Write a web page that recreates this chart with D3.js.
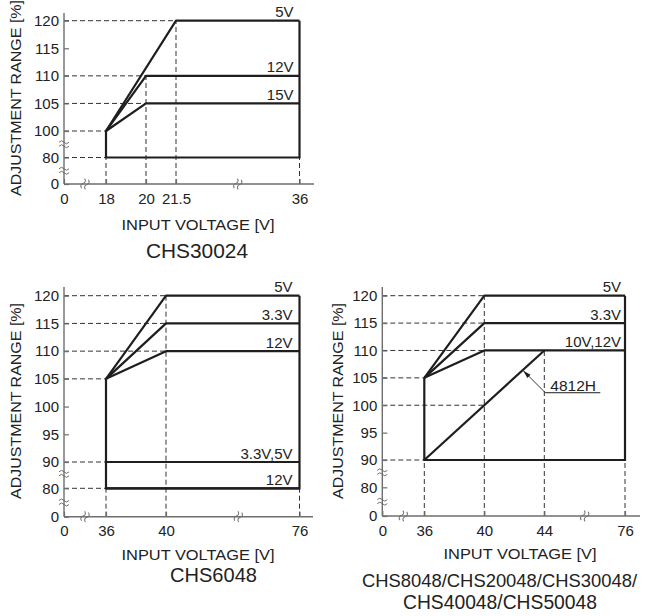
<!DOCTYPE html>
<html>
<head>
<meta charset="utf-8">
<script src="https://cdn.jsdelivr.net/npm/d3@7"></script>
<style>
  body { margin: 0; background: #fff; }
  text { font-family: "Liberation Sans", Arial, sans-serif; fill: #222; }
</style>
</head>
<body>
<script>
// CHS30024
var chs30024XTicks = [0, 18, 20, 21.5, 36];
var chs30024YTicks = [0, 80, 100, 105, 110, 115, 120];
var chs30024Labels = ["5V", "12V", "15V"];
var chs30024Values = [
    [[18, 100], [21.5, 120], [36, 120]],
    [[18, 100], [20, 110], [36, 110]],
    [[18, 100], [20, 105], [36, 105]]
];
var chs30024Frame = [[18, 100], [18, 80], [36, 80], [36, 120]];
var chs30024HGuides = [[120, 21.5], [110, 20], [105, 20], [100, 18], [80, 18]];
var chs30024VGuides = [[18, 80], [20, 110], [21.5, 120], [36, 80]];

// CHS6048
var chs6048XTicks = [0, 36, 40, 76];
var chs6048YTicks = [0, 80, 90, 95, 100, 105, 110, 115, 120];
var chs6048Labels = ["5V", "3.3V", "12V", "3.3V,5V", "12V"];
var chs6048Values = [
    [[36, 105], [40, 120], [76, 120]],
    [[36, 105], [40, 115], [76, 115]],
    [[36, 105], [40, 110], [76, 110]],
    [[36, 90], [76, 90]],
    [[36, 80], [76, 80]]
];
var chs6048Frame = [[36, 105], [36, 80], [76, 80], [76, 120]];
var chs6048HGuides = [[120, 40], [115, 40], [110, 40], [105, 36], [90, 36], [80, 36]];
var chs6048VGuides = [[36, 80], [40, 120], [76, 80]];

// CHS8048/CHS20048/CHS30048/CHS40048/CHS50048
var chs8048XTicks = [0, 36, 40, 44, 76];
var chs8048YTicks = [0, 80, 90, 95, 100, 105, 110, 115, 120];
var chs8048Labels = ["5V", "3.3V", "10V,12V", "4812H"];
var chs8048Values = [
    [[36, 105], [40, 120], [76, 120]],
    [[36, 105], [40, 115], [76, 115]],
    [[36, 105], [40, 110], [76, 110]],
    [[36, 90], [44, 110]]
];
var chs8048Frame = [[36, 105], [36, 90], [76, 90], [76, 120]];
var chs8048HGuides = [[120, 40], [115, 40], [110, 40], [105, 36], [100, 40], [90, 36]];
var chs8048VGuides = [[36, 90], [40, 120], [44, 110], [76, 90]];

var panels = [
    {
        xTicks: chs30024XTicks, yTicks: chs30024YTicks, labels: chs30024Labels,
        values: chs30024Values, frame: chs30024Frame,
        hGuides: chs30024HGuides, vGuides: chs30024VGuides,
        xDomain: [0, 18, 21.5, 36], xRange: [64, 106, 176, 299.5],
        yDomain: [0, 80, 100, 120], yRange: [184, 157.5, 131, 20.7],
        xEnd: 314, yTop: 13, xBreaks: [9, 28.75], yBreaks: [90, 40],
        labelGap: 6,
        yTitle: [21, 98], xTitle: [198, 229.5],
        title: [["CHS30024", 197, 258, 102, 21]]
    },
    {
        xTicks: chs6048XTicks, yTicks: chs6048YTicks, labels: chs6048Labels,
        values: chs6048Values, frame: chs6048Frame,
        hGuides: chs6048HGuides, vGuides: chs6048VGuides,
        xDomain: [0, 36, 40, 76], xRange: [64, 106, 166, 299.5],
        yDomain: [0, 80, 90, 120], yRange: [516.7, 488.3, 462, 295.7],
        xEnd: 313, yTop: 287, xBreaks: [18, 59.5], yBreaks: [85.5, 40],
        labelGap: 7,
        yTitle: [21, 401], xTitle: [198, 560],
        title: [["CHS6048", 213.5, 582, 87, 21]]
    },
    {
        xTicks: chs8048XTicks, yTicks: chs8048YTicks, labels: chs8048Labels,
        values: chs8048Values, frame: chs8048Frame,
        hGuides: chs8048HGuides, vGuides: chs8048VGuides,
        xDomain: [0, 36, 44, 76], xRange: [382.3, 424.3, 544.3, 625],
        yDomain: [0, 80, 90, 120], yRange: [516, 487.3, 460, 295.7],
        xEnd: 640, yTop: 287, xBreaks: [18, 60], yBreaks: [85.5, 40],
        labelGap: 4, callout: { label: "4812H", at: [42.6, 106.3], dx: 22, dy: 22, len: 55 },
        yTitle: [343, 401], xTitle: [520, 558.5],
        title: [["CHS8048/CHS20048/CHS30048/", 499.5, 587, null, 18.4], ["CHS40048/CHS50048", 500, 609, null, 19.3]]
    }
];

var axisColor = "#6e6e6e";
var inkColor = "#1e1e1e";

var svg = d3.select("body").append("svg")
    .attr("width", 645)
    .attr("height", 616);

panels.forEach(drawPanel);

// small "~~" break mark
function breakMark(g, cx, cy, rotate) {
    var m = g.append("g")
        .attr("transform", "translate(" + cx + "," + cy + ") rotate(" + rotate + ")");
    [-2, 2].forEach(function (o) {
        m.append("path")
            .attr("d", "M-5," + o + " q2.5,-3 5,0 t5,0")
            .attr("fill", "none")
            .attr("stroke", axisColor)
            .attr("stroke-width", 1);
    });
}

function drawPanel(p) {
    var x = d3.scaleLinear().domain(p.xDomain).range(p.xRange);
    var y = d3.scaleLinear().domain(p.yDomain).range(p.yRange);
    var g = svg.append("g");
    var x0 = x(0), y0 = y(0);

    // dashed guides
    g.selectAll(".hguide").data(p.hGuides).enter().append("line")
        .attr("x1", x0).attr("x2", function (d) { return x(d[1]); })
        .attr("y1", function (d) { return y(d[0]); }).attr("y2", function (d) { return y(d[0]); })
        .attr("stroke", "#333").attr("stroke-width", 1).attr("stroke-dasharray", "5,3");

    g.selectAll(".vguide").data(p.vGuides).enter().append("line")
        .attr("x1", function (d) { return x(d[0]); }).attr("x2", function (d) { return x(d[0]); })
        .attr("y1", y0).attr("y2", function (d) { return y(d[1]); })
        .attr("stroke", "#333").attr("stroke-width", 1).attr("stroke-dasharray", "5,3");

    // axes
    var yAxis = g.append("g")
        .attr("transform", "translate(" + x0 + ",0)")
        .call(d3.axisLeft(y).tickValues(p.yTicks).tickSizeInner(-5).tickSizeOuter(0)
            .tickPadding(5).tickFormat(function (d) { return d; }));
    var xAxis = g.append("g")
        .attr("transform", "translate(0," + y0 + ")")
        .call(d3.axisBottom(x).tickValues(p.xTicks).tickSizeInner(-5).tickSizeOuter(0)
            .tickPadding(9).tickFormat(function (d) { return d; }));

    [yAxis, xAxis].forEach(function (a) {
        a.select(".domain").remove();
        a.attr("font-size", null).attr("font-family", null);
        a.selectAll("line").attr("stroke", axisColor).attr("stroke-width", 1.2);
        a.selectAll("text").style("font-size", "15px").attr("fill", "#222");
    });

    g.append("line")
        .attr("x1", x0).attr("x2", x0).attr("y1", p.yTop).attr("y2", y0)
        .attr("stroke", axisColor).attr("stroke-width", 1.4);
    g.append("line")
        .attr("x1", x0).attr("x2", p.xEnd).attr("y1", y0).attr("y2", y0)
        .attr("stroke", axisColor).attr("stroke-width", 1.4);

    p.yBreaks.forEach(function (v) { breakMark(g, x0, y(v), 0); });
    p.xBreaks.forEach(function (v) { breakMark(g, x(v), y0, -72); });

    // range lines
    var line = d3.line()
        .x(function (d) { return x(d[0]); })
        .y(function (d) { return y(d[1]); });

    g.append("path")
        .attr("d", line(p.frame))
        .attr("fill", "none").attr("stroke", inkColor).attr("stroke-width", 2.2);

    g.selectAll(".series").data(p.values).enter().append("path")
        .attr("d", line)
        .attr("fill", "none").attr("stroke", inkColor).attr("stroke-width", 2.2)
        .attr("stroke-linejoin", "round");

    p.values.forEach(function (pts, i) {
        var name = p.labels[i];
        if (p.callout && p.callout.label === name) return;
        var last = pts[pts.length - 1];
        g.append("text")
            .attr("x", x(last[0]) - p.labelGap)
            .attr("y", y(last[1]) - 3.5)
            .attr("text-anchor", "end")
            .style("font-size", "15px")
            .text(name);
    });

    // callout for 4812H
    if (p.callout) {
        var c = p.callout;
        var tx = x(c.at[0]), ty = y(c.at[1]);
        var lx = tx + c.dx, ly = ty + c.dy;
        g.append("line")
            .attr("x1", lx).attr("y1", ly).attr("x2", tx).attr("y2", ty)
            .attr("stroke", inkColor).attr("stroke-width", 0.9);
        g.append("line")
            .attr("x1", lx).attr("y1", ly).attr("x2", lx + c.len).attr("y2", ly)
            .attr("stroke", inkColor).attr("stroke-width", 1);
        var ang = Math.atan2(ly - ty, lx - tx) * 180 / Math.PI;
        g.append("path")
            .attr("d", "M0,0 L8,-2.3 L8,2.3 Z")
            .attr("transform", "translate(" + tx + "," + ty + ") rotate(" + ang + ")")
            .attr("fill", inkColor);
        g.append("text")
            .attr("x", lx + 5).attr("y", ly - 2)
            .style("font-size", "15.5px")
            .text(c.label);
    }

    // titles
    g.append("text")
        .attr("transform", "translate(" + p.yTitle[0] + "," + p.yTitle[1] + ") rotate(-90)")
        .attr("text-anchor", "middle")
        .style("font-size", "15.5px")
        .attr("textLength", 196)
        .attr("lengthAdjust", "spacingAndGlyphs")
        .text("ADJUSTMENT RANGE [%]");

    g.append("text")
        .attr("x", p.xTitle[0]).attr("y", p.xTitle[1])
        .attr("text-anchor", "middle")
        .style("font-size", "15.5px")
        .attr("textLength", 153)
        .attr("lengthAdjust", "spacingAndGlyphs")
        .text("INPUT VOLTAGE [V]");

    p.title.forEach(function (t) {
        var tt = g.append("text")
            .attr("x", t[1]).attr("y", t[2])
            .attr("text-anchor", "middle")
            .style("font-size", t[4] + "px")
            .text(t[0]);
        if (t[3]) tt.attr("textLength", t[3]).attr("lengthAdjust", "spacingAndGlyphs");
    });
}
</script>
</body>
</html>
